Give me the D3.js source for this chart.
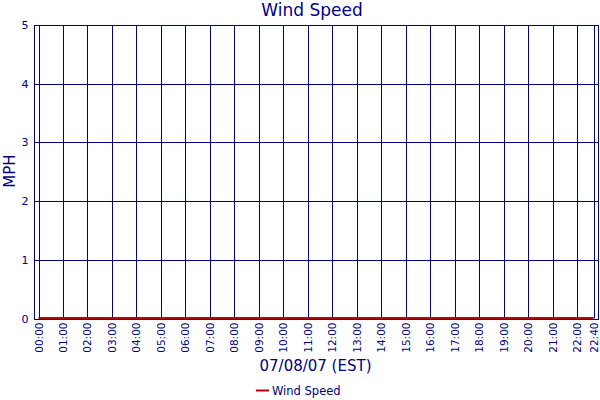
<!DOCTYPE html>
<html>
<head>
<meta charset="utf-8">
<script src="https://cdn.jsdelivr.net/npm/d3@7"></script>
<style>
  body { margin: 0; background: #fff; }
  svg { display: block; font-family: "DejaVu Sans", Verdana, sans-serif; }
</style>
</head>
<body>
<div id="chart"></div>
<script>
// Wind speed readings for 07/08/07 (all calm)
const sampleTimes = ["00:00", "01:00", "02:00", "03:00", "04:00", "05:00", "06:00", "07:00",
  "08:00", "09:00", "10:00", "11:00", "12:00", "13:00", "14:00", "15:00", "16:00", "17:00",
  "18:00", "19:00", "20:00", "21:00", "22:00", "22:40"];
const windSpeed = [0, 0, 0, 0, 0, 0, 0, 0, 0, 0, 0, 0, 0, 0, 0, 0, 0, 0, 0, 0, 0, 0, 0, 0];
const tickLabels = ["00:00", "01:00", "02:00", "03:00", "04:00", "05:00", "06:00", "07:00",
  "08:00", "09:00", "10:00", "11:00", "12:00", "13:00", "14:00", "15:00", "16:00", "17:00",
  "18:00", "19:00", "20:00", "21:00", "22:00", "22:40"];
const yTicks = [0, 1, 2, 3, 4, 5];

const navy = "#000080";
const parseTime = d3.timeParse("%m/%d/%y %H:%M");
const toDate = s => parseTime("07/08/07 " + s);

const W = 600, H = 400;
const plotLeft = 34.5, plotRight = 598.5, plotTop = 25, plotBottom = 318.5;

const svg = d3.select("#chart").append("svg").attr("width", W).attr("height", H);

const x = d3.scaleTime()
  .domain([toDate("00:00"), toDate("22:40")])
  .range([38.5, 593.5]);
const y = d3.scaleLinear().domain([0, 5]).range([plotBottom, plotTop]);

const data = sampleTimes.map((t, i) => ({ t: toDate(t), v: windSpeed[i] }));

// vertical grid
svg.append("g").selectAll("line")
  .data(tickLabels)
  .enter().append("line")
  .attr("x1", d => Math.round(x(toDate(d))) + 0.5)
  .attr("x2", d => Math.round(x(toDate(d))) + 0.5)
  .attr("y1", plotTop).attr("y2", plotBottom)
  .attr("stroke", navy).attr("stroke-width", 1);

// horizontal grid
svg.append("g").selectAll("line")
  .data(yTicks)
  .enter().append("line")
  .attr("x1", plotLeft).attr("x2", plotRight)
  .attr("y1", d => Math.round(y(d)) + 0.5)
  .attr("y2", d => Math.round(y(d)) + 0.5)
  .attr("stroke", navy).attr("stroke-width", 1);

// frame
svg.append("rect")
  .attr("x", plotLeft).attr("y", plotTop + 0.5)
  .attr("width", plotRight - plotLeft).attr("height", Math.round(plotBottom) - plotTop)
  .attr("fill", "none").attr("stroke", navy).attr("stroke-width", 1);

// series
svg.append("path")
  .datum(data)
  .attr("fill", "none")
  .attr("stroke", "#c00000")
  .attr("stroke-width", 2)
  .attr("d", d3.line().x(d => x(d.t)).y(d => y(d.v) - 0.5));

// y axis labels
const yAxis = svg.append("g")
  .attr("transform", "translate(" + (plotLeft - 1) + ",0)")
  .call(d3.axisLeft(y).tickValues(yTicks).tickSize(0).tickPadding(5).tickFormat(d3.format("d")));
yAxis.select(".domain").remove();
yAxis.selectAll("text")
  .attr("fill", navy)
  .style("font-size", "11px")
  .style("font-family", "DejaVu Sans");

// x axis labels
const xAxis = svg.append("g")
  .attr("transform", "translate(0," + plotBottom + ")")
  .call(d3.axisBottom(x).tickValues(tickLabels.map(toDate)).tickSize(0).tickFormat(d3.timeFormat("%H:%M")));
xAxis.select(".domain").remove();
xAxis.selectAll(".tick").attr("transform", d => "translate(" + Math.round(x(d)) + ",0)");
xAxis.selectAll("text")
  .attr("fill", navy)
  .attr("transform", "rotate(-90)")
  .attr("text-anchor", "end")
  .attr("x", -4)
  .attr("y", 0)
  .attr("dy", "0.35em")
  .style("font-size", "10.5px")
  .style("font-family", "DejaVu Sans");

// titles
svg.append("text")
  .attr("x", 312).attr("y", 16)
  .attr("text-anchor", "middle")
  .attr("fill", navy)
  .style("font-size", "17px")
  .text("Wind Speed");

svg.append("text")
  .attr("transform", "translate(14.5,171) rotate(-90)")
  .attr("text-anchor", "middle")
  .attr("fill", navy)
  .style("font-size", "15px")
  .text("MPH");

svg.append("text")
  .attr("x", 315.5).attr("y", 371)
  .attr("text-anchor", "middle")
  .attr("fill", navy)
  .style("font-size", "15px")
  .text("07/08/07 (EST)");

// legend
const legend = svg.append("g").attr("transform", "translate(256,390.5)");
legend.append("line")
  .attr("x1", 0).attr("x2", 13).attr("y1", 0).attr("y2", 0)
  .attr("stroke", "#c00000").attr("stroke-width", 2);
legend.append("text")
  .attr("x", 16).attr("y", 4.5)
  .attr("fill", navy)
  .style("font-size", "11.5px")
  .text("Wind Speed");
</script>
</body>
</html>
